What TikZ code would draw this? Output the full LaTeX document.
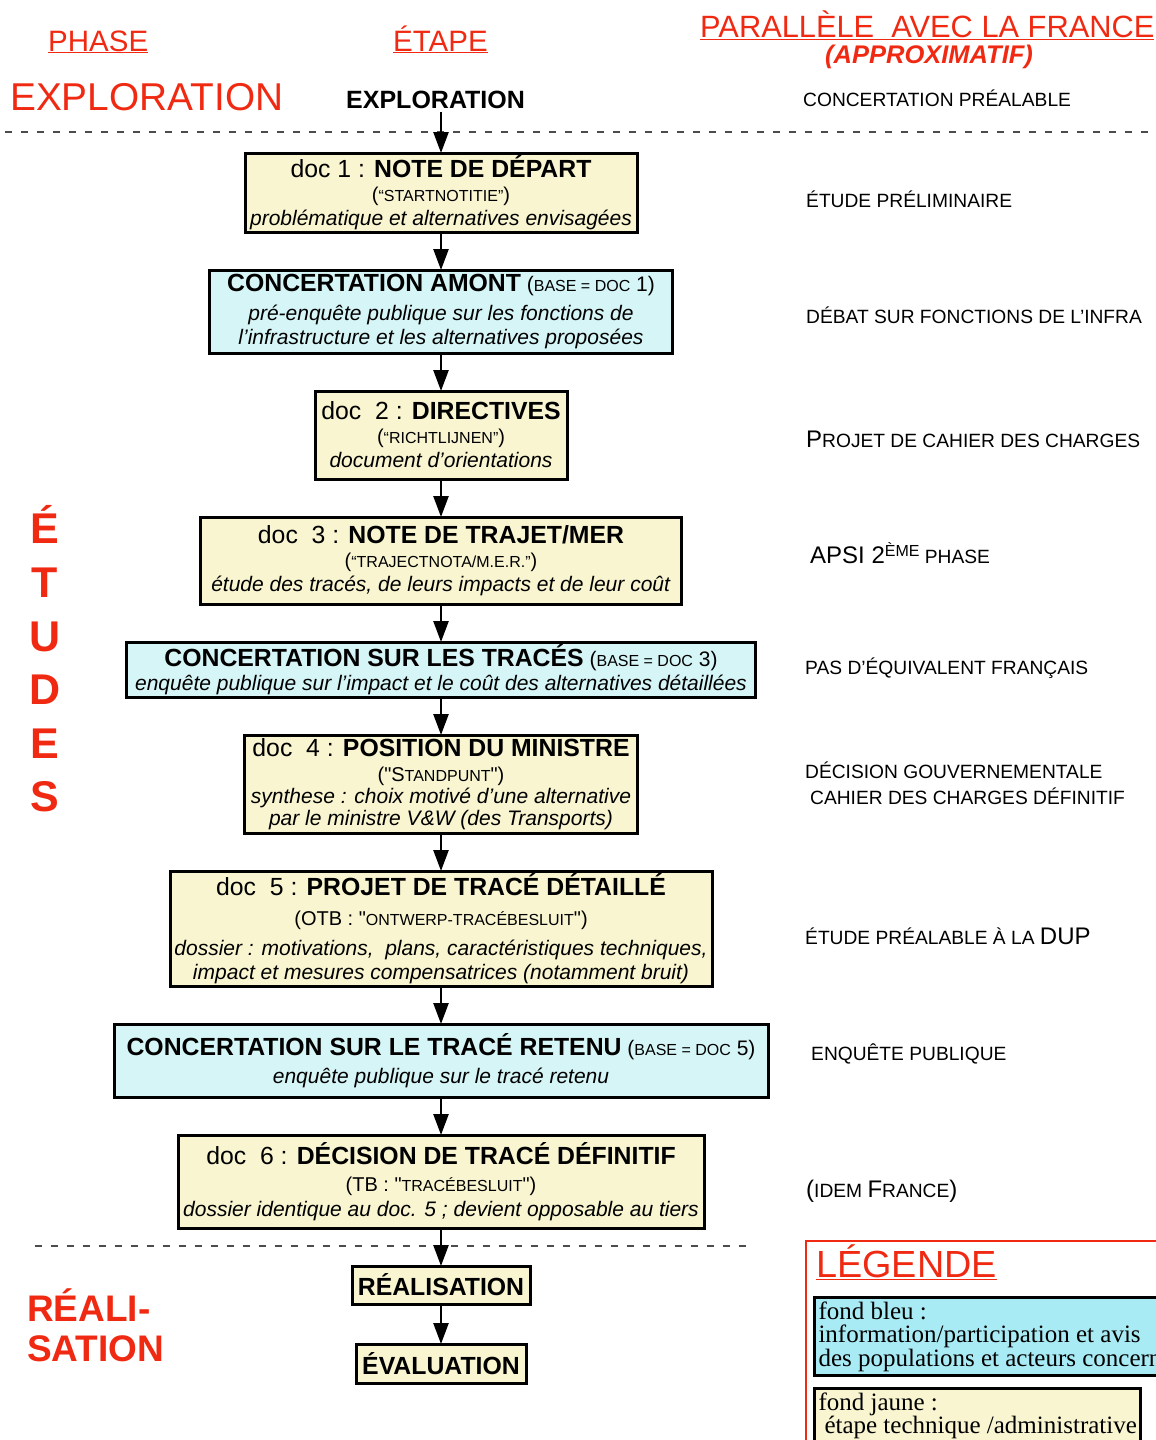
\documentclass[tikz,border=0pt]{standalone}
\usepackage{fontspec}
\setmainfont{Liberation Sans}[Ligatures=TeXOff]
\newfontfamily\legendefont{Liberation Serif}
\usetikzlibrary{positioning,arrows.meta}

\definecolor{rouge}{RGB}{240,42,18}
\definecolor{jaune}{RGB}{248,245,208}
\definecolor{bleu}{RGB}{214,245,247}
\definecolor{bleuvif}{RGB}{168,235,244}

\newcommand\titre{\fontsize{24.8}{28}\selectfont}
\newcommand\sous{\fontsize{20}{24}\selectfont}
\newcommand\petit[1]{{\fontsize{16}{16}\selectfont #1}}
\newcommand\grand[1]{{\fontsize{24}{24}\selectfont #1}}
\newcommand\qd{\symbol{34}}

\tikzset{
  etape/.style={draw, line width=3pt, inner sep=0pt, outer sep=0pt, align=center,
    fill=jaune, font=\fontsize{21}{24}\selectfont},
  concert/.style={etape, fill=bleu},
  fleche/.style={line width=2.5pt, -{Triangle[length=21pt,width=15pt]}},
  separation/.style={black!70, line width=1.6pt, dash pattern=on 7pt off 9pt},
  france/.style={anchor=base west, inner sep=0pt, font=\fontsize{19.2}{22}\selectfont},
  entete/.style={anchor=base west, inner sep=0pt, text=rouge},
  legende/.style={draw, line width=3pt, anchor=north west, align=left, inner xsep=4pt,
    inner ysep=4pt, font=\legendefont\fontsize{25}{23.5}\selectfont},
}

\begin{document}
\begin{tikzpicture}[x=1pt,y=-1pt,node distance=38pt]
 \useasboundingbox (0,0) rectangle (1156,1440);
 \clip (0,0) rectangle (1156,1440);

 \node[entete, font=\fontsize{29.5}{30}\selectfont] (phase) at (48,51) {\underline{PHASE}};
 \node[entete, font=\fontsize{29.5}{30}\selectfont] (etapes) at (393,51) {\underline{ÉTAPE}};
 \node[entete, font=\fontsize{30.8}{31}\selectfont] (parallele) at (700,37) {\underline{PARALLÈLE\ \ AVEC LA FRANCE}};
 \node[entete, font=\fontsize{25.5}{26}\selectfont\bfseries\itshape] (approx) at (825,63) {(APPROXIMATIF)};

 \node[entete, font=\fontsize{38.8}{40}\selectfont] (explophase) at (10,110) {EXPLORATION};
 \node[anchor=base west, inner sep=4pt, font=\fontsize{25}{28}\selectfont\bfseries] (explo) at (342,108) {EXPLORATION};
 \node[text=rouge, inner sep=0pt, align=center, font=\fontsize{43}{53.6}\selectfont\bfseries] (etudes) at (45,659) {É\\T\\U\\D\\E\\S};
 \node[text=rouge, inner sep=0pt, anchor=west, align=left, font=\fontsize{37}{40}\selectfont\bfseries] (realphase) at (27,1325) {RÉALI-\\SATION};

 \draw[separation] (5,132) -- (1156,132);
 \draw[separation] (35,1246) -- (755,1246);

 \node[etape, minimum width=392pt, minimum height=79pt] (doc1) at (441,192.5)
  {{\titre doc 1 : \textbf{NOTE DE DÉPART}}\\
   {\sous(\petit{“STARTNOTITIE”})}\\
   \textit{problématique et alternatives envisagées}};
 \node[concert, below=of doc1, minimum width=463pt, minimum height=83pt] (amont)
  {{\titre\textbf{CONCERTATION AMONT}} (\petit{BASE = DOC} 1)\\[5pt]
   \textit{pré-enquête publique sur les fonctions de}\\
   \textit{l’infrastructure et les alternatives proposées}};
 \node[etape, below=of amont, minimum width=252pt, minimum height=88pt] (doc2)
  {{\titre doc\ \ 2 : \textbf{DIRECTIVES}}\\
   {\sous(\petit{“RICHTLIJNEN”})}\\
   \textit{document d’orientations}};
 \node[etape, below=of doc2, minimum width=481pt, minimum height=87pt] (doc3)
  {{\titre doc\ \ 3 : \textbf{NOTE DE TRAJET/MER}}\\
   {\sous(\petit{“TRAJECTNOTA/M.E.R.”})}\\
   \textit{étude des tracés, de leurs impacts et de leur coût}};
 \node[concert, below=of doc3, minimum width=629pt, minimum height=55pt] (traces)
  {{\titre\textbf{CONCERTATION SUR LES TRACÉS}} (\petit{BASE = DOC} 3)\\
   \textit{enquête publique sur l’impact et le coût des alternatives détaillées}};
 \node[etape, below=of traces, minimum width=393pt, minimum height=98pt,
   font=\fontsize{21}{22}\selectfont] (doc4)
  {{\titre doc\ \ 4 : \textbf{POSITION DU MINISTRE}}\\[3pt]
   {\sous(\qd S\petit{TANDPUNT}\qd)}\\
   \textit{synthese : choix motivé d’une alternative}\\
   \textit{par le ministre V\&W (des Transports)}};
 \node[etape, below=of doc4, minimum width=542pt, minimum height=115pt] (doc5)
  {{\titre doc\ \ 5 : \textbf{PROJET DE TRACÉ DÉTAILLÉ}}\\[6pt]
   {\sous(OTB : \qd\petit{ONTWERP-TRACÉBESLUIT}\qd)}\\[6pt]
   \textit{dossier : motivations,\ \ plans, caractéristiques techniques,}\\
   \textit{impact et mesures compensatrices (notamment bruit)}};
 \node[concert, below=of doc5, minimum width=654pt, minimum height=73pt] (retenu)
  {{\titre\textbf{CONCERTATION SUR LE TRACÉ RETENU}} (\petit{BASE = DOC} 5)\\[4pt]
   \textit{enquête publique sur le tracé retenu}};
 \node[etape, below=of retenu, minimum width=526pt, minimum height=93pt] (doc6)
  {{\titre doc\ \ 6 : \textbf{DÉCISION DE TRACÉ DÉFINITIF}}\\[3pt]
   {\sous(TB : \qd\petit{TRACÉBESLUIT}\qd)}\\[1pt]
   \textit{dossier identique au doc. 5 ; devient opposable au tiers}};
 \node[etape, below=of doc6, minimum width=178pt, minimum height=38pt, font=\titre\bfseries] (real) {RÉALISATION};
 \node[etape, below=40pt of real, minimum width=170pt, minimum height=39pt, font=\titre\bfseries] (eval) {ÉVALUATION};

 \draw[fleche] (explo.south -| doc1.north) -- (doc1);
 \draw[fleche] (doc1) -- (amont);
 \draw[fleche] (amont) -- (doc2);
 \draw[fleche] (doc2) -- (doc3);
 \draw[fleche] (doc3) -- (traces);
 \draw[fleche] (traces) -- (doc4);
 \draw[fleche] (doc4) -- (doc5);
 \draw[fleche] (doc5) -- (retenu);
 \draw[fleche] (retenu) -- (doc6);
 \draw[fleche] (doc6) -- (real);
 \draw[fleche] (real) -- (eval);

 \node[france] (fr0) at (803,106) {CONCERTATION PRÉALABLE};
 \node[france] (fr1) at (806,207) {ÉTUDE PRÉLIMINAIRE};
 \node[france] (fr2) at (806,323) {DÉBAT SUR FONCTIONS DE L’INFRA};
 \node[france] (fr3) at (806,447) {\grand{P}ROJET DE CAHIER DES CHARGES};
 \node[france] (fr4) at (810,563) {\grand{APSI 2}\raisebox{7pt}{\petit{ÈME}} PHASE};
 \node[france] (fr5) at (805,674) {PAS D’ÉQUIVALENT FRANÇAIS};
 \node[france] (fr6a) at (805,778) {DÉCISION GOUVERNEMENTALE};
 \node[france] (fr6b) at (810,804) {CAHIER DES CHARGES DÉFINITIF};
 \node[france] (fr7) at (805,944) {ÉTUDE PRÉALABLE À LA \grand{DUP}};
 \node[france] (fr8) at (811,1060) {ENQUÊTE PUBLIQUE};
 \node[france] (fr9) at (806,1197) {\grand{(}IDEM \grand{F}RANCE\grand{)}};

 \draw[rouge, line width=2pt] (806,1241) rectangle (1180,1470);
 \node[entete, font=\fontsize{37.8}{38}\selectfont] (legende) at (816,1277) {\underline{LÉGENDE}};
 \node[legende, fill=bleuvif] (fondbleu) at (813,1296)
  {fond bleu :\\information/participation et avis\\des populations et acteurs concernés};
 \node[legende, fill=jaune, text depth=40pt] (fondjaune) at (813,1387)
  {fond jaune :\\\hspace*{6pt}étape technique /administrative};
\end{tikzpicture}
\end{document}
